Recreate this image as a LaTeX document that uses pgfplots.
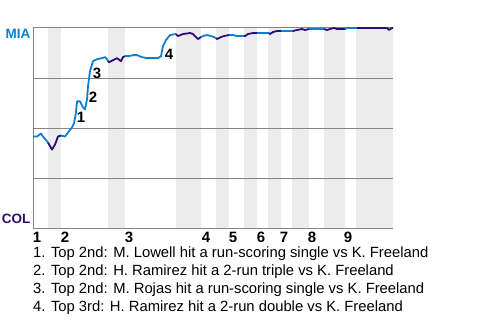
\documentclass[border=0pt]{standalone}
\usepackage{fontspec}
\setmainfont{Liberation Sans}
\usepackage{pgfplots}
\pgfplotsset{compat=1.18}
\definecolor{mia}{HTML}{0A7FD4}
\definecolor{col}{HTML}{2E0B6E}
\definecolor{band}{HTML}{ECECEC}
\definecolor{gridc}{HTML}{858585}
\begin{document}
\begin{tikzpicture}[x=1pt,y=1pt]
\begin{axis}[
  set layers, clip=false,
  at={(33pt,91pt)}, anchor=south west,
  scale only axis, width=360pt, height=201pt,
  xmin=33, xmax=393, ymin=0, ymax=100,
  axis x line*=bottom, axis y line*=left,
  axis line style={gridc, line width=1pt, -},
  ytick={25,50,75,100}, yticklabels={},
  ymajorgrids, major grid style={gridc, line width=1pt},
  major tick length=0pt,
  extra y ticks={97,5},
  extra y tick labels={\textcolor{mia}{MIA},\textcolor{col}{COL}},
  extra y tick style={grid=none},
  yticklabel style={font=\fontsize{13.5}{13.5}\selectfont\bfseries, inner sep=0pt, xshift=-2.5pt},
  xtick={37,65,129,206,233,261,284,312,348},
  xticklabels={1,2,3,4,5,6,7,8,9},
  xticklabel style={font=\fontsize{15}{15}\selectfont\bfseries, inner sep=0pt, yshift=-3pt},
]
% shaded half-innings
\addplot[fill=band, draw=none, on layer=axis background] coordinates {(48,0) (61,0) (61,100) (48,100)} -- cycle;
\addplot[fill=band, draw=none, on layer=axis background] coordinates {(108,0) (125,0) (125,100) (108,100)} -- cycle;
\addplot[fill=band, draw=none, on layer=axis background] coordinates {(176,0) (201,0) (201,100) (176,100)} -- cycle;
\addplot[fill=band, draw=none, on layer=axis background] coordinates {(216,0) (229,0) (229,100) (216,100)} -- cycle;
\addplot[fill=band, draw=none, on layer=axis background] coordinates {(244,0) (257,0) (257,100) (244,100)} -- cycle;
\addplot[fill=band, draw=none, on layer=axis background] coordinates {(268,0) (281,0) (281,100) (268,100)} -- cycle;
\addplot[fill=band, draw=none, on layer=axis background] coordinates {(292,0) (309,0) (309,100) (292,100)} -- cycle;
\addplot[fill=band, draw=none, on layer=axis background] coordinates {(324,0) (345,0) (345,100) (324,100)} -- cycle;
\addplot[fill=band, draw=none, on layer=axis background] coordinates {(356,0) (393,0) (393,100) (356,100)} -- cycle;
% win probability line
\pgfplotsset{every axis plot/.append style={line width=1.8pt, line join=round}}
\addplot[mia] coordinates {(33,46) (37,46) (41,47.5) (43,46) (48,43)};
\addplot[col] coordinates {(48,43) (52,39.5) (55,42) (58,46) (61,46.5)};
\addplot[mia] coordinates {(61,46.5) (65,46) (68,48) (72,50.5) (74,52.5) (76,58) (77,63.5) (80,63.5) (83,60.5) (85,59.5) (87,64.5) (88,71) (90,78.5) (93,83.5) (97,84.5) (102,85) (105,85.5) (107,84.5) (108,83.5)};
\addplot[col] coordinates {(108,83.5) (109,83) (113,84) (117,85) (121,83.5) (123,85.5) (125,86)};
\addplot[mia] coordinates {(125,86) (129,86) (133,86.5) (137,86.5) (142,85.5) (147,85) (158,85) (161,86) (163,91) (166,94) (170,96.5) (176,97)};
\addplot[col] coordinates {(176,97) (178,96) (183,97) (190,97.5) (193,97) (195,96) (198,94.5) (201,95.5)};
\addplot[mia] coordinates {(201,95.5) (203,96) (207,96.5) (211,96) (214,95.5) (216,95)};
\addplot[col] coordinates {(216,95) (217,94.5) (221,95.5) (224,96) (229,96.5)};
\addplot[mia] coordinates {(229,96.5) (233,96.5) (237,96) (244,96)};
\addplot[col] coordinates {(244,96) (245,96) (248,97) (253,97.5) (257,97.5)};
\addplot[mia] coordinates {(257,97.5) (269,97.5)};
\addplot[col] coordinates {(269,97.5) (270,97) (273,98) (277,98.5) (281,98.5)};
\addplot[mia] coordinates {(281,98.5) (293,98.5)};
\addplot[col] coordinates {(293,98.5) (297,99) (302,99.5) (305,99) (309,99.5)};
\addplot[mia] coordinates {(309,99.5) (324,99.5)};
\addplot[col] coordinates {(324,99.5) (327,99) (330,99.5) (334,100) (337,99.5) (345,99.5)};
\addplot[mia] coordinates {(345,99.5) (347,100) (357,100)};
\addplot[col] coordinates {(357,100) (387,100) (389,99) (392,100) (393,100)};
% annotations
\node[font=\fontsize{15}{15}\selectfont\bfseries] at (axis cs:81,55.5) {1};
\node[font=\fontsize{15}{15}\selectfont\bfseries] at (axis cs:93,65.5) {2};
\node[font=\fontsize{15}{15}\selectfont\bfseries] at (axis cs:97,77.5) {3};
\node[font=\fontsize{15}{15}\selectfont\bfseries] at (axis cs:169,87) {4};
\end{axis}
\begin{scope}[every node/.style={anchor=west, inner sep=0pt, font=\fontsize{14.8}{14.8}\selectfont}]
\node at (33,66.5) {1. Top 2nd: M. Lowell hit a run-scoring single vs K. Freeland};
\node at (33,48.5) {2. Top 2nd: H. Ramirez hit a 2-run triple vs K. Freeland};
\node at (33,30.5) {3. Top 2nd: M. Rojas hit a run-scoring single vs K. Freeland};
\node at (33,12.5) {4. Top 3rd: H. Ramirez hit a 2-run double vs K. Freeland};
\end{scope}
\pgfresetboundingbox
\path[use as bounding box] (0,0) rectangle (480,320);
\end{tikzpicture}
\end{document}
